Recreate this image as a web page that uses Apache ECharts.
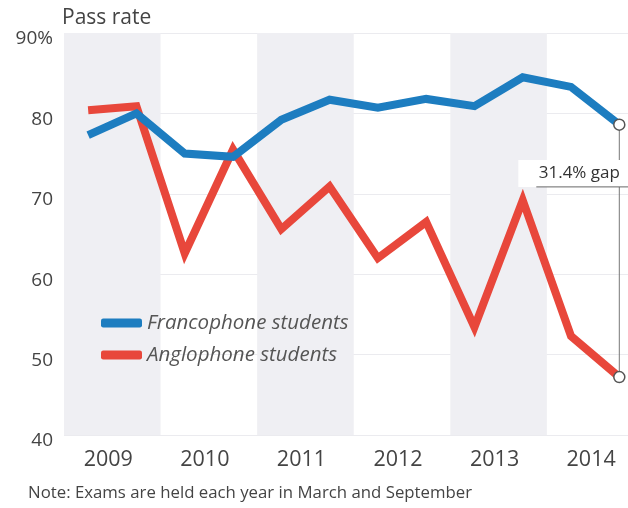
<!DOCTYPE html>
<html>
<head>
<meta charset="utf-8">
<script src="https://cdn.jsdelivr.net/npm/echarts@6/dist/echarts.min.js"></script>
<style>
  html, body { margin: 0; padding: 0; background: #fff; }
  #chart { width: 628px; height: 508px; }
</style>
</head>
<body>
<div id="chart"></div>
<script>
// Exam sessions: March and September of each year, 2009-2014
const years = ['2009', '2010', '2011', '2012', '2013', '2014'];
const sessionPos = [0.5, 1.5, 2.5, 3.5, 4.5, 5.5, 6.5, 7.5, 8.5, 9.5, 10.5, 11.5];
const francophone = [77.3, 80.0, 75.0, 74.6, 79.2, 81.7, 80.7, 81.8, 80.9, 84.5, 83.3, 78.6];
const anglophone  = [80.4, 80.9, 62.6, 75.5, 65.6, 70.9, 62.0, 66.5, 53.4, 69.2, 52.3, 47.2];
const yTicks = [40, 50, 60, 70, 80, 90];

const BLUE = '#1d7dc0';
const RED = '#e8473b';
const FONT = '"Open Sans", Lato, sans-serif';

const chart = echarts.init(document.getElementById('chart'), null, { renderer: 'canvas' });

const last = sessionPos.length - 1;
function pairs(vals) {
  return vals.map((v, i) => {
    const item = { value: [sessionPos[i], v] };
    if (i === last) {
      item.symbol = 'circle';
      item.symbolSize = 11;
      item.itemStyle = { color: '#fff', borderColor: '#555', borderWidth: 1.5 };
    }
    return item;
  });
}

// alternating shaded year bands (2009, 2011, 2013)
const bands = [];
for (let k = 0; k < years.length; k += 2) {
  bands.push([{ xAxis: k * 2, yAxis: yTicks[0] }, { xAxis: k * 2 + 2, yAxis: yTicks[yTicks.length - 1] }]);
}

const gap = francophone[last] - anglophone[last];

chart.setOption({
  animation: false,
  backgroundColor: '#fff',
  textStyle: { fontFamily: FONT },
  grid: { left: 64, top: 33, right: 0, height: 402, containLabel: false },
  xAxis: {
    type: 'value', min: 0, max: 11.68, interval: 1,
    axisLine: { show: false }, axisTick: { show: false }, splitLine: { show: false },
    axisLabel: {
      fontSize: 21.5, color: '#444', fontFamily: FONT, margin: 14,
      padding: [0, 8, 0, 0],
      showMinLabel: true, showMaxLabel: false,
      formatter: v => (v % 2 === 1 ? years[(v - 1) / 2] : '')
    }
  },
  yAxis: {
    type: 'value', min: 40, max: 90, interval: 10,
    axisLine: { show: false }, axisTick: { show: false },
    splitLine: { show: true, lineStyle: { color: '#ebebef', width: 1 } },
    axisLabel: {
      fontSize: 19, color: '#444', fontFamily: FONT, margin: 11,
      verticalAlign: 'top', lineHeight: 12,
      formatter: v => (v === 90 ? v + '%' : String(v))
    }
  },
  legend: {
    data: ['Francophone students', 'Anglophone students'],
    orient: 'vertical', left: 96, top: 308,
    icon: 'roundRect', itemWidth: 41, itemHeight: 9, itemGap: 12,
    textStyle: { fontSize: 20.5, fontStyle: 'italic', color: '#555', fontFamily: FONT }
  },
  series: [
    {
      name: 'bands', type: 'line', data: [], silent: true,
      markArea: { silent: true, itemStyle: { color: '#efeff3' }, data: bands }
    },
    {
      name: 'gapline', type: 'line', silent: true, symbol: 'none',
      data: [[sessionPos[last], francophone[last]], [sessionPos[last], anglophone[last]]],
      lineStyle: { color: '#777', width: 1 }, z: 3
    },
    {
      name: 'Anglophone students', type: 'line', data: pairs(anglophone),
      symbol: 'none', color: RED,
      lineStyle: { color: RED, width: 8, join: 'miter', miterLimit: 4 }, z: 4
    },
    {
      name: 'Francophone students', type: 'line', data: pairs(francophone),
      symbol: 'none', color: BLUE,
      lineStyle: { color: BLUE, width: 8, join: 'miter', miterLimit: 4 }, z: 5
    }
  ]
});

// gap annotation next to the last session
const p = chart.convertToPixel({ gridIndex: 0 }, [sessionPos[last], 72.6]);
chart.setOption({
  graphic: [
    { type: 'text', left: 62, top: 8, style: { text: 'Pass rate', fontSize: 21, fill: '#444', fontFamily: FONT } },
    { type: 'rect', shape: { x: p[0] - 101, y: p[1] - 13, width: 112, height: 27 }, style: { fill: '#fff' }, z: 10 },
    { type: 'line', shape: { x1: p[0] - 83, y1: p[1] + 14, x2: p[0] + 12, y2: p[1] + 14 }, style: { stroke: '#666', lineWidth: 1 }, z: 11 },
    { type: 'text', x: p[0] - 40, y: p[1], z: 11,
      style: { text: gap.toFixed(1) + '% gap', fontSize: 17, fill: '#333', fontFamily: FONT, align: 'center', verticalAlign: 'middle' } },
    { type: 'text', left: 28, top: 485,
      style: { text: 'Note: Exams are held each year in March and September', fontSize: 16.8, fill: '#444', fontFamily: FONT } }
  ]
});
</script>
</body>
</html>
